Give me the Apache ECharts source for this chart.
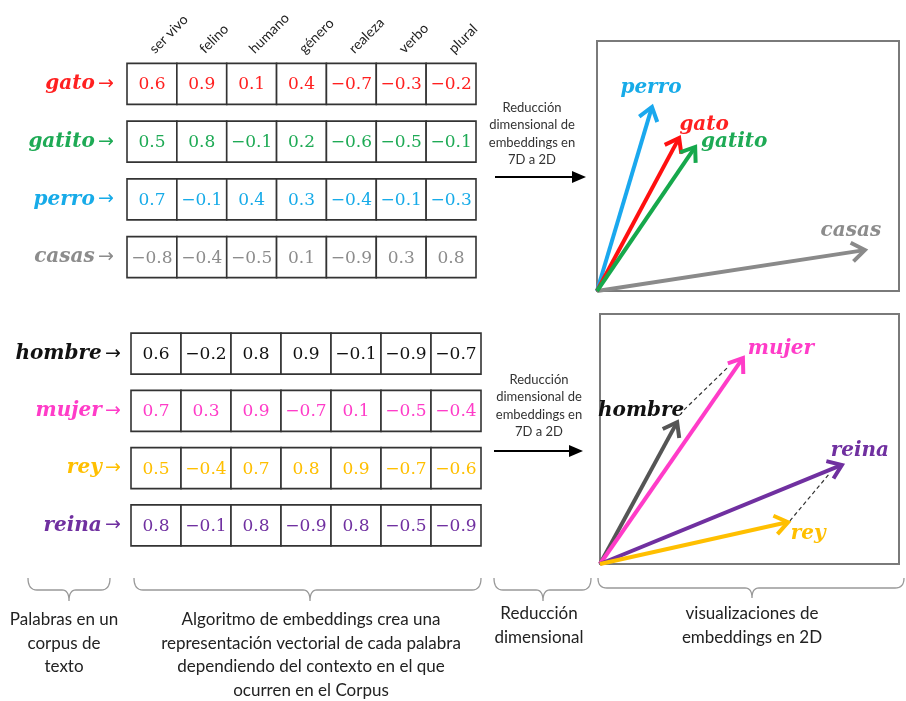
<!DOCTYPE html>
<html><head><meta charset="utf-8">
<script src="https://cdn.jsdelivr.net/npm/echarts@6/dist/echarts.min.js"></script>
<style>html,body{margin:0;padding:0;background:#fff}#c{width:906px;height:701px}</style>
</head><body><div id="c"></div>
<script>
// ---------------- DATA ----------------
const features = ['ser vivo', 'felino', 'humano', 'género', 'realeza', 'verbo', 'plural'];

const topWords = ['gato', 'gatito', 'perro', 'casas'];
const gatoVals   = [0.6, 0.9, 0.1, 0.4, -0.7, -0.3, -0.2];
const gatitoVals = [0.5, 0.8, -0.1, 0.2, -0.6, -0.5, -0.1];
const perroVals  = [0.7, -0.1, 0.4, 0.3, -0.4, -0.1, -0.3];
const casasVals  = [-0.8, -0.4, -0.5, 0.1, -0.9, 0.3, 0.8];

const bottomWords = ['hombre', 'mujer', 'rey', 'reina'];
const hombreVals = [0.6, -0.2, 0.8, 0.9, -0.1, -0.9, -0.7];
const mujerVals  = [0.7, 0.3, 0.9, -0.7, 0.1, -0.5, -0.4];
const reyVals    = [0.5, -0.4, 0.7, 0.8, 0.9, -0.7, -0.6];
const reinaVals  = [0.8, -0.1, 0.8, -0.9, 0.8, -0.5, -0.9];

// 2D projections (estimated, same order as word lists)
const top2D    = [[2.72, 4.90], [3.25, 4.61], [1.82, 5.89], [8.87, 1.31]];
const bottom2D = [[2.58, 4.54], [4.78, 6.59], [6.29, 1.34], [8.09, 3.17]];
// analogy guides (dashed): hombre→mujer, rey→reina
const guideLines = [[[2.81, 4.93], [4.28, 6.30]], [[6.35, 1.38], [7.69, 2.91]]];

// ---------------- STYLES ----------------
const topColors    = ['#ff2020', '#1eaa55', '#17abe8', '#8c8c8c'];
const topArrowCols = ['#ff1010', '#16a84c', '#1aa8ee', '#8a8a8a'];
const bottomColors = ['#111111', '#ff3cc8', '#ffbf00', '#7030a0'];
const bottomArrowCols = ['#555555', '#ff3cc8', '#ffbf00', '#7030a0'];
const topLabelOff    = [[25, -13], [39, -5], [-1, -19], [-14, -19]];
const bottomLabelOff = [[-36, -11], [38, -9], [20, 12], [18, -14]];
const vecDrawOrderTop = [3, 2, 0, 1];
const vecDrawOrderBottom = [0, 1, 3, 2];

const SERIF_BI = 'italic bold 20px "DejaVu Serif"';
const SANS = 'Lato';

function fmt(v) { return (v < 0 ? '\u2212' : '') + Math.abs(v).toFixed(1); }

function cellData(rows) {
  const d = [];
  rows.forEach((vals, r) => vals.forEach((v, c) => d.push([c, r, v])));
  return d;
}

function cellRender(colors) {
  return function (params, api) {
    const c = api.value(0), r = api.value(1), v = api.value(2);
    const p = api.coord([c, r]);
    const s = api.size([1, 1]);
    const w = s[0], h = 41;
    return {
      type: 'group', children: [
        { type: 'rect', shape: { x: p[0] - w / 2, y: p[1] - h / 2, width: w, height: h },
          style: { fill: '#fff', stroke: '#333', lineWidth: 1.6 } },
        { type: 'text', style: { x: p[0], y: p[1] + 1, text: fmt(v), fill: colors[r],
          font: '17px "DejaVu Serif"', align: 'center', verticalAlign: 'middle' } }
      ]
    };
  };
}

function vecRender(words, colors, arrowCols, offs) {
  return function (params, api) {
    const i = api.value(2);
    const o = api.coord([0, 0]);
    const t = api.coord([api.value(0), api.value(1)]);
    const ang = Math.atan2(t[1] - o[1], t[0] - o[0]);
    const L = 16, a = Math.PI / 5;
    const p1 = [t[0] - L * Math.cos(ang - a), t[1] - L * Math.sin(ang - a)];
    const p2 = [t[0] - L * Math.cos(ang + a), t[1] - L * Math.sin(ang + a)];
    const col = arrowCols[i];
    return {
      type: 'group', children: [
        { type: 'line', shape: { x1: o[0], y1: o[1], x2: t[0] - 2 * Math.cos(ang), y2: t[1] - 2 * Math.sin(ang) },
          style: { stroke: col, lineWidth: 4 } },
        { type: 'polyline', shape: { points: [p1, t, p2] },
          style: { stroke: col, lineWidth: 4, fill: null, lineJoin: 'miter' } },
        { type: 'text', style: { x: t[0] + offs[i][0], y: t[1] + offs[i][1], text: words[i], fill: colors[i],
          font: SERIF_BI, align: 'center', verticalAlign: 'middle' } }
      ]
    };
  };
}

function wordRich(colors) {
  const rich = {};
  colors.forEach((c, i) => {
    rich['w' + i] = { color: c, fontFamily: 'DejaVu Serif', fontWeight: 'bold', fontStyle: 'italic', fontSize: 20 };
    rich['a' + i] = { color: c, fontSize: 19, fontFamily: 'DejaVu Sans' };
  });
  return rich;
}

function quad(p0, p1, p2, n, out) {
  for (let k = 1; k <= n; k++) {
    const t = k / n, u = 1 - t;
    out.push([u * u * p0[0] + 2 * u * t * p1[0] + t * t * p2[0], u * u * p0[1] + 2 * u * t * p1[1] + t * t * p2[1]]);
  }
}
function brace(x1, x2, xm, y0, y1, y2) {
  const pts = [[x1, y0]];
  quad([x1, y0], [x1, y1], [x1 + 9, y1], 8, pts);
  pts.push([xm - 7, y1]);
  quad([xm - 7, y1], [xm, y1], [xm, y2], 8, pts);
  quad([xm, y2], [xm, y1], [xm + 7, y1], 8, pts);
  pts.push([x2 - 9, y1]);
  quad([x2 - 9, y1], [x2, y1], [x2, y0], 8, pts);
  return { type: 'polyline', shape: { points: pts }, style: { stroke: '#999', lineWidth: 1.3, fill: null } };
}

const chart = echarts.init(document.getElementById('c'), null, { renderer: 'canvas' });

const option = {
  backgroundColor: '#fff',
  animation: false,
  grid: [
    { left: 127, top: 55, width: 349, height: 231 },
    { left: 131, top: 325, width: 350, height: 229 },
    { left: 597, top: 41, width: 302, height: 250, show: true, borderColor: '#7a7a7a', borderWidth: 2 },
    { left: 600, top: 314, width: 299, height: 250, show: true, borderColor: '#7a7a7a', borderWidth: 2 }
  ],
  xAxis: [
    { gridIndex: 0, type: 'category', data: features, position: 'top',
      axisLine: { show: false }, axisTick: { show: false },
      axisLabel: { rotate: -45, align: 'left', verticalAlign: 'middle', margin: 4,
        fontFamily: SANS, fontSize: 14, color: '#222', interval: 0 } },
    { gridIndex: 1, type: 'category', data: features, show: false },
    { gridIndex: 2, type: 'value', min: 0, max: 10, show: false },
    { gridIndex: 3, type: 'value', min: 0, max: 10, show: false }
  ],
  yAxis: [
    { gridIndex: 0, type: 'category', data: topWords, inverse: true,
      axisLine: { show: false }, axisTick: { show: false },
      axisLabel: { margin: 13, formatter: (v, i) => '{w' + i + '|' + v + '} {a' + i + '|\u2192}', rich: wordRich(topColors) } },
    { gridIndex: 1, type: 'category', data: bottomWords, inverse: true,
      axisLine: { show: false }, axisTick: { show: false },
      axisLabel: { margin: 10, formatter: (v, i) => '{w' + i + '|' + v + '} {a' + i + '|\u2192}', rich: wordRich(bottomColors) } },
    { gridIndex: 2, type: 'value', min: 0, max: 8, show: false },
    { gridIndex: 3, type: 'value', min: 0, max: 8, show: false }
  ],
  series: [
    { type: 'custom', xAxisIndex: 0, yAxisIndex: 0, renderItem: cellRender(topColors),
      data: cellData([gatoVals, gatitoVals, perroVals, casasVals]) },
    { type: 'custom', xAxisIndex: 1, yAxisIndex: 1, renderItem: cellRender(bottomColors),
      data: cellData([hombreVals, mujerVals, reyVals, reinaVals]) },
    { type: 'custom', xAxisIndex: 2, yAxisIndex: 2,
      renderItem: vecRender(topWords, topColors, topArrowCols, topLabelOff),
      data: vecDrawOrderTop.map(i => [top2D[i][0], top2D[i][1], i]) },
    { type: 'lines', coordinateSystem: 'cartesian2d', xAxisIndex: 3, yAxisIndex: 3, symbol: 'none',
      lineStyle: { type: [4, 3], color: '#333', width: 1.2, opacity: 1 },
      data: guideLines.map(c => ({ coords: c })) },
    { type: 'custom', xAxisIndex: 3, yAxisIndex: 3,
      renderItem: vecRender(bottomWords, bottomColors, bottomArrowCols, bottomLabelOff),
      data: vecDrawOrderBottom.map(i => [bottom2D[i][0], bottom2D[i][1], i]) }
  ],
  graphic: [
    { type: 'text', x: 532, y: 99, style: { text: 'Reducción\ndimensional de\nembeddings en\n7D a 2D',
      font: '13px ' + SANS, fill: '#333', align: 'center', verticalAlign: 'top', lineHeight: 17.5 } },
    { type: 'line', shape: { x1: 495, y1: 177, x2: 575, y2: 177 }, style: { stroke: '#000', lineWidth: 2.2 } },
    { type: 'polygon', shape: { points: [[572, 171], [586, 177], [572, 183]] }, style: { fill: '#000' } },
    { type: 'text', x: 539, y: 371, style: { text: 'Reducción\ndimensional de\nembeddings en\n7D a 2D',
      font: '13px ' + SANS, fill: '#333', align: 'center', verticalAlign: 'top', lineHeight: 17.5 } },
    { type: 'line', shape: { x1: 494, y1: 451, x2: 571, y2: 451 }, style: { stroke: '#000', lineWidth: 2.2 } },
    { type: 'polygon', shape: { points: [[569, 445], [583, 451], [569, 457]] }, style: { fill: '#000' } },
    brace(28, 110, 69, 578, 590, 601),
    brace(134, 481, 310, 578, 590, 601),
    brace(494, 591, 543, 578, 590, 601),
    brace(598, 904, 752, 578, 588, 598),
    { type: 'text', x: 64, y: 608, style: { text: 'Palabras en un\ncorpus de\ntexto',
      font: '17px ' + SANS, fill: '#222', align: 'center', verticalAlign: 'top', lineHeight: 23.5 } },
    { type: 'text', x: 311, y: 608, style: { text: 'Algoritmo de embeddings crea una\nrepresentación vectorial de cada palabra\ndependiendo del contexto en el que\nocurren en el Corpus',
      font: '17px ' + SANS, fill: '#222', align: 'center', verticalAlign: 'top', lineHeight: 23.5 } },
    { type: 'text', x: 539, y: 602, style: { text: 'Reducción\ndimensional',
      font: '17px ' + SANS, fill: '#222', align: 'center', verticalAlign: 'top', lineHeight: 23.5 } },
    { type: 'text', x: 752, y: 602, style: { text: 'visualizaciones de\nembeddings en 2D',
      font: '17px ' + SANS, fill: '#222', align: 'center', verticalAlign: 'top', lineHeight: 23.5 } }
  ]
};
chart.setOption(option);
</script>
</body></html>
